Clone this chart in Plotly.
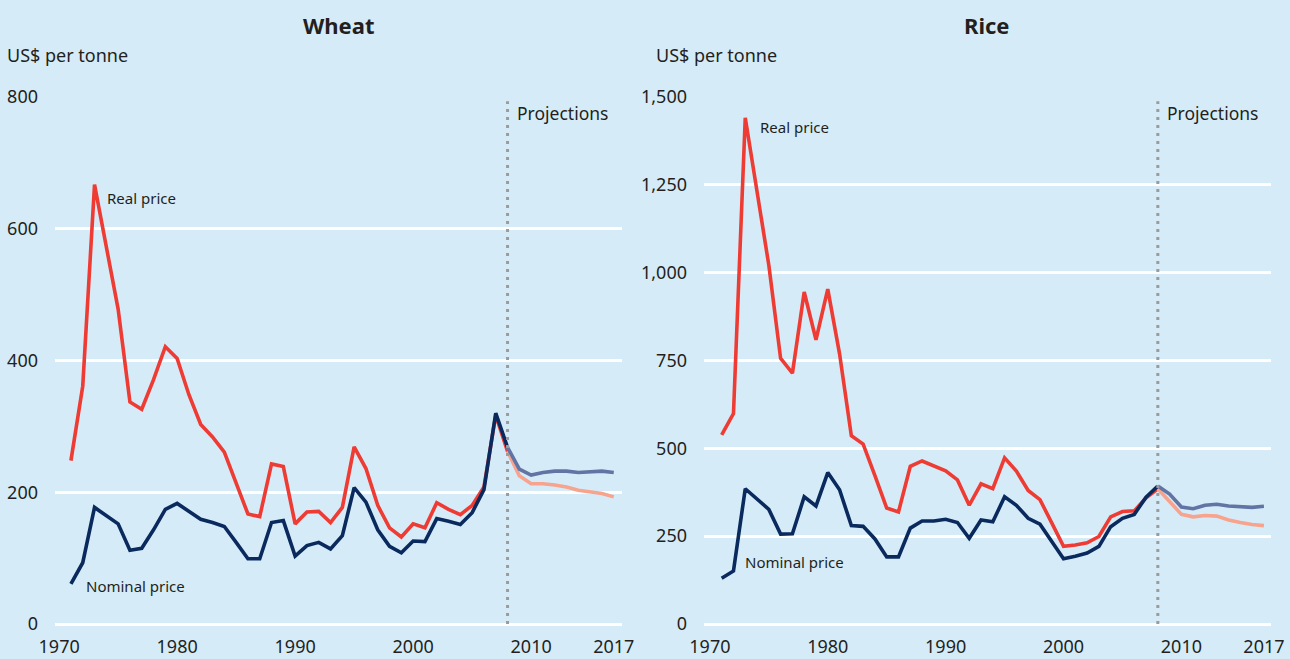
import plotly.graph_objects as go

# ---------------- data ----------------
years_hist = list(range(1971, 2009))          # 1971..2008
years_proj = list(range(2008, 2018))          # 2008..2017
projection_start = 2008

wheat_real_hist = [248, 361, 667, 570, 478, 337, 326, 371, 421, 403,
                   348, 303, 284, 261, 213, 167, 163, 243, 239, 152,
                   170, 171, 154, 177, 269, 236, 180, 146, 132, 152,
                   146, 184, 174, 166, 180, 208, 317, 262]
wheat_real_proj = [262, 225, 213, 213, 211, 208, 203, 200, 198, 193]
wheat_nom_hist = [61, 93, 177, 164, 152, 112, 115, 143, 174, 183,
                  171, 159, 154, 148, 124, 99, 99, 154, 157, 103,
                  119, 124, 114, 134, 207, 185, 143, 118, 108, 126,
                  125, 160, 156, 151, 169, 204, 320, 268]
wheat_nom_proj = [268, 235, 226, 230, 232, 232, 230, 231, 232, 230]

rice_real_hist = [538, 599, 1441, 1225, 1021, 756, 714, 945, 809, 953,
                  769, 536, 512, 422, 330, 319, 449, 464, 449, 436,
                  410, 338, 399, 385, 473, 435, 380, 354, 288, 221,
                  225, 231, 249, 305, 320, 322, 359, 385]
rice_real_proj = [385, 349, 312, 305, 309, 307, 296, 289, 283, 280]
rice_nom_hist = [130, 151, 385, 354, 326, 256, 257, 362, 336, 431,
                 382, 280, 278, 242, 191, 191, 273, 293, 293, 298,
                 289, 244, 296, 291, 362, 338, 301, 284, 233, 186,
                 193, 202, 221, 277, 301, 312, 361, 393]
rice_nom_proj = [393, 370, 333, 328, 338, 341, 336, 333, 332, 335]

x_tick_vals = [1970, 1980, 1990, 2000, 2010, 2017]
x_tick_text = ["1970", "1980", "1990", "2000", "2010", "2017"]
wheat_y_ticks = [0, 200, 400, 600, 800]
rice_y_ticks = [0, 250, 500, 750, 1000, 1250, 1500]

# ---------------- styles ----------------
BG = "#D5ECF8"
RED = "#EE3B33"
NAVY = "#0A2A5E"
RED_LIGHT = "#F7A38E"
NAVY_LIGHT = "#6174A3"
TXT = "#231F20"
FONT = "Noto Sans"
LW = 3.6

fig = go.Figure()


def add_lines(xa, ya, rh, rp, nh, np_):
    fig.add_trace(go.Scatter(x=years_hist, y=rh, mode="lines", xaxis=xa, yaxis=ya,
                             line=dict(color=RED, width=LW), hoverinfo="skip", showlegend=False))
    fig.add_trace(go.Scatter(x=years_proj, y=rp, mode="lines", xaxis=xa, yaxis=ya,
                             line=dict(color=RED_LIGHT, width=LW), hoverinfo="skip", showlegend=False))
    fig.add_trace(go.Scatter(x=years_hist, y=nh, mode="lines", xaxis=xa, yaxis=ya,
                             line=dict(color=NAVY, width=LW), hoverinfo="skip", showlegend=False))
    fig.add_trace(go.Scatter(x=years_proj, y=np_, mode="lines", xaxis=xa, yaxis=ya,
                             line=dict(color=NAVY_LIGHT, width=LW), hoverinfo="skip", showlegend=False))


add_lines("x", "y", wheat_real_hist, wheat_real_proj, wheat_nom_hist, wheat_nom_proj)
add_lines("x2", "y2", rice_real_hist, rice_real_proj, rice_nom_hist, rice_nom_proj)

W, H = 1290, 659
xdom1 = [55 / W, 622 / W]
xdom2 = [704 / W, 1271 / W]
ydom = [1 - 624 / H, 1 - 97 / H]
xrange1 = [1969.65, 2017.7]
xrange2 = [1969.5, 2017.6]

xcommon = dict(tickvals=x_tick_vals, ticktext=x_tick_text,
               showgrid=False, zeroline=False, showline=False, ticks="",
               ticklabelstandoff=10,
               tickfont=dict(family=FONT, size=18, color=TXT), fixedrange=True)
ycommon = dict(showgrid=True, gridcolor="white", gridwidth=2.6,
               zeroline=True, zerolinecolor="white", zerolinewidth=2.6,
               showline=False, ticks="", ticklabelstandoff=16,
               tickfont=dict(family=FONT, size=18, color=TXT), fixedrange=True)

fig.update_layout(
    width=W, height=H,
    margin=dict(l=0, r=0, t=0, b=0, autoexpand=False),
    paper_bgcolor=BG, plot_bgcolor=BG,
    xaxis=dict(domain=xdom1, anchor="y", range=xrange1, **xcommon),
    yaxis=dict(domain=ydom, anchor="x", range=[0, 800], tickvals=wheat_y_ticks, **ycommon),
    xaxis2=dict(domain=xdom2, anchor="y2", range=xrange2, **xcommon),
    yaxis2=dict(domain=ydom, anchor="x2", range=[0, 1500], tickvals=rice_y_ticks,
                tickformat=",", **ycommon),
)

# projection dividers
for xr, yr in (("x", "y domain"), ("x2", "y2 domain")):
    fig.add_shape(type="line", xref=xr, yref=yr, x0=projection_start, x1=projection_start,
                  y0=0, y1=0.992, line=dict(color="#9A9B9D", width=3, dash="3px,5px"))

ann = []
def txt(text, x, y, xref, yref, size, bold=False, xanchor="left"):
    ann.append(dict(text=f"<b>{text}</b>" if bold else text, x=x, y=y, xref=xref, yref=yref,
                    xanchor=xanchor, yanchor="middle", showarrow=False,
                    font=dict(family=FONT, size=size, color=TXT)))

# titles and units
txt("Wheat", 338 / W, 1 - 25 / H, "paper", "paper", 22, bold=True, xanchor="center")
txt("Rice", 987 / W, 1 - 25 / H, "paper", "paper", 22, bold=True, xanchor="center")
txt("US$ per tonne", 5 / W, 1 - 55 / H, "paper", "paper", 18)
txt("US$ per tonne", 654 / W, 1 - 55 / H, "paper", "paper", 18)

# series labels
txt("Real price", 1973.9, 646, "x", "y", 15)
txt("Nominal price", 1972.1, 57, "x", "y", 15)
txt("Projections", 2008.6, 776, "x", "y", 17.5)
txt("Real price", 1974.1, 1415, "x2", "y2", 15)
txt("Nominal price", 1972.8, 176, "x2", "y2", 15)
txt("Projections", 2008.6, 1455, "x2", "y2", 17.5)

fig.update_layout(annotations=ann)

fig.write_html("out.html", config={"displayModeBar": False},
               post_script="document.body.style.margin='0';document.body.style.overflow='hidden';")
